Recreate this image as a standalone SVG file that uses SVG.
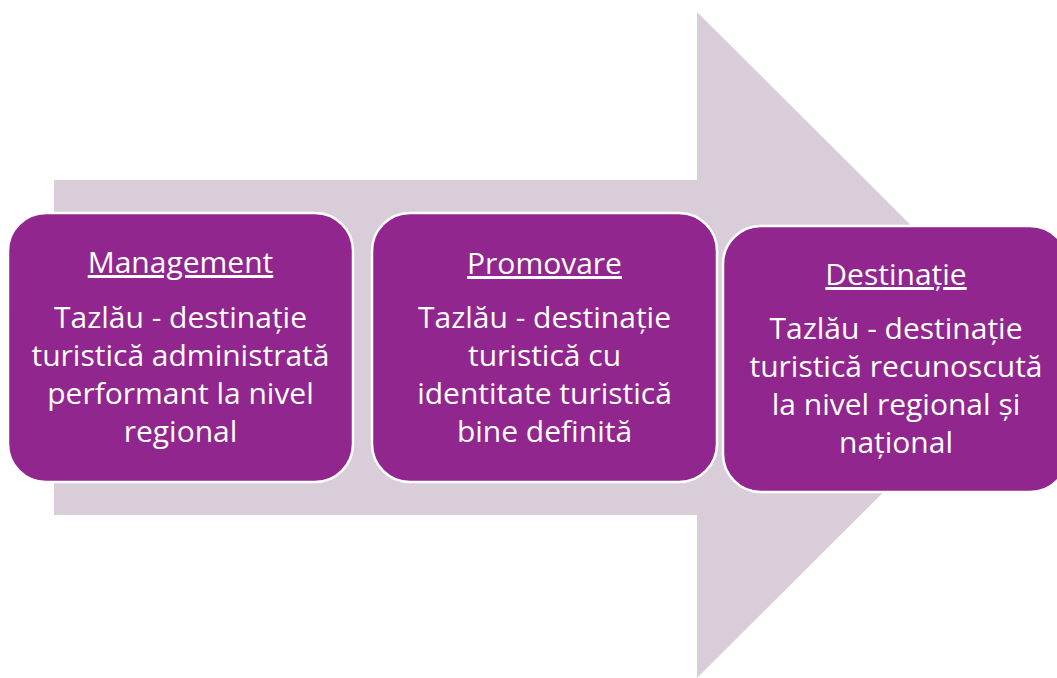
<svg xmlns="http://www.w3.org/2000/svg" width="1057" height="678" viewBox="0 0 1057 678">
<style>
.box{fill:#91278E;stroke:#FFFFFF;stroke-width:2.5}
.t{font-family:"Open Sans","Liberation Sans",sans-serif;font-size:30px;fill:#FFFFFF;text-anchor:middle}
.h{text-decoration:underline}
</style>
<rect width="1057" height="678" fill="#FFFFFF"/>
<g id="arrow">
<path d="M54,180 H697 V12 L1031,345 L697,678 V515 H54 Z" fill="#DACDDA"/>
</g>
<g id="connectors"></g>
<g id="node-management">
<rect class="box" x="8" y="213" width="345" height="269" rx="38" ry="38"/>
<text class="t h" x="180.5" y="273">Management</text>
<text class="t" x="180.5" y="328">Tazlău - destinație</text>
<text class="t" x="180.5" y="366">turistică administrată</text>
<text class="t" x="180.5" y="404">performant la nivel</text>
<text class="t" x="180.5" y="442">regional</text>
</g>
<g id="node-promovare">
<rect class="box" x="372" y="213" width="345" height="269" rx="38" ry="38"/>
<text class="t h" x="544.5" y="274">Promovare</text>
<text class="t" x="544.5" y="328">Tazlău - destinație</text>
<text class="t" x="544.5" y="366">turistică cu</text>
<text class="t" x="544.5" y="404">identitate turistică</text>
<text class="t" x="544.5" y="442">bine definită</text>
</g>
<g id="node-destinatie">
<rect class="box" x="723" y="226" width="345" height="266" rx="38" ry="38"/>
<text class="t h" x="896" y="285">Destinație</text>
<text class="t" x="896" y="339">Tazlău - destinație</text>
<text class="t" x="896" y="377">turistică recunoscută</text>
<text class="t" x="896" y="415">la nivel regional și</text>
<text class="t" x="896" y="453">național</text>
</g>
</svg>
